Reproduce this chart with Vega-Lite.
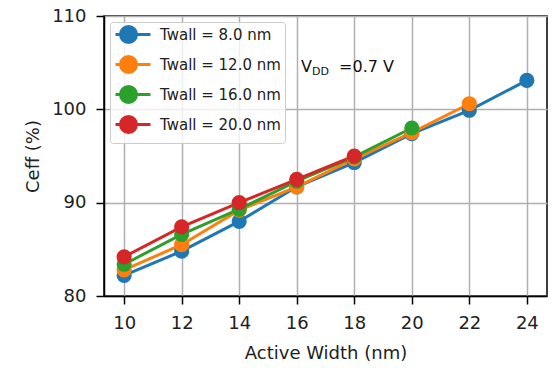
{
  "$schema": "https://vega.github.io/schema/vega-lite/v6.json",
  "width": 443,
  "height": 280,
  "autosize": {"type": "none"},
  "padding": {"left": 104, "top": 16, "right": 7, "bottom": 72},
  "background": "white",
  "config": {
    "font": "DejaVu Sans",
    "view": {"stroke": "black", "strokeWidth": 1.5},
    "axis": {
      "domainColor": "black", "domainWidth": 1.5,
      "tickColor": "black", "tickWidth": 1.5, "tickSize": 8,
      "gridColor": "#b0b0b0", "gridWidth": 1.5,
      "labelFont": "DejaVu Sans", "labelFontSize": 18, "labelColor": "#222",
      "titleFont": "DejaVu Sans", "titleFontSize": 18, "titleFontWeight": "normal", "titleColor": "#222"
    }
  },
  "data": {"values": [
    {"w": 10, "ceff": 82.2, "s": "8.0"},
    {"w": 12, "ceff": 84.8, "s": "8.0"},
    {"w": 14, "ceff": 88.0, "s": "8.0"},
    {"w": 16, "ceff": 91.7, "s": "8.0"},
    {"w": 18, "ceff": 94.3, "s": "8.0"},
    {"w": 20, "ceff": 97.4, "s": "8.0"},
    {"w": 22, "ceff": 99.9, "s": "8.0"},
    {"w": 24, "ceff": 103.1, "s": "8.0"},
    {"w": 10, "ceff": 82.8, "s": "12.0"},
    {"w": 12, "ceff": 85.5, "s": "12.0"},
    {"w": 14, "ceff": 89.2, "s": "12.0"},
    {"w": 16, "ceff": 91.7, "s": "12.0"},
    {"w": 18, "ceff": 94.7, "s": "12.0"},
    {"w": 20, "ceff": 97.5, "s": "12.0"},
    {"w": 22, "ceff": 100.6, "s": "12.0"},
    {"w": 10, "ceff": 83.4, "s": "16.0"},
    {"w": 12, "ceff": 86.6, "s": "16.0"},
    {"w": 14, "ceff": 89.3, "s": "16.0"},
    {"w": 16, "ceff": 92.3, "s": "16.0"},
    {"w": 18, "ceff": 94.9, "s": "16.0"},
    {"w": 20, "ceff": 98.0, "s": "16.0"},
    {"w": 10, "ceff": 84.2, "s": "20.0"},
    {"w": 12, "ceff": 87.4, "s": "20.0"},
    {"w": 14, "ceff": 90.0, "s": "20.0"},
    {"w": 16, "ceff": 92.5, "s": "20.0"},
    {"w": 18, "ceff": 95.0, "s": "20.0"}
  ]},
  "layer": [
    {
      "mark": {"type": "line", "strokeWidth": 3},
      "encoding": {
        "x": {"field": "w", "type": "quantitative",
              "scale": {"domain": [9.3, 24.7], "nice": false, "zero": false},
              "axis": {"values": [10, 12, 14, 16, 18, 20, 22, 24], "title": "Active Width (nm)", "labelPadding": 10, "titlePadding": 12}},
        "y": {"field": "ceff", "type": "quantitative",
              "scale": {"domain": [80, 110], "nice": false, "zero": false},
              "axis": {"values": [80, 90, 100, 110], "title": "Ceff (%)", "labelPadding": 10, "titlePadding": 9}},
        "color": {"field": "s", "type": "nominal",
                  "scale": {"domain": ["8.0", "12.0", "16.0", "20.0"], "range": ["#1f77b4", "#ff7f0e", "#2ca02c", "#d62728"]},
                  "legend": {
                    "title": null, "orient": "top-left", "offset": 6,
                    "labelExpr": "'Twall = ' + datum.label + ' nm'",
                    "labelFont": "DejaVu Sans", "labelFontSize": 15, "labelColor": "#222", "labelOffset": 29,
                    "symbolType": "M-1,0L4,0M1.997,0L1.91,0.436L1.663,0.806L1.293,1.053L0.857,1.14L0.421,1.053L0.051,0.806L-0.196,0.436L-0.283,0L-0.196,-0.436L0.051,-0.806L0.421,-1.053L0.857,-1.14L1.293,-1.053L1.663,-0.806L1.91,-0.436Z",
                    "symbolSize": 196, "symbolStrokeWidth": 3,
                    "rowPadding": 1, "padding": 4,
                    "strokeColor": "#cccccc", "fillColor": "rgba(255,255,255,0.8)", "cornerRadius": 3
                  }},
        "order": {"field": "w", "type": "quantitative"}
      }
    },
    {
      "mark": {"type": "point", "filled": true, "size": 230, "opacity": 1},
      "encoding": {
        "x": {"field": "w", "type": "quantitative"},
        "y": {"field": "ceff", "type": "quantitative"},
        "color": {"field": "s", "type": "nominal"}
      }
    },
    {
      "data": {"values": [{"t": "V"}]},
      "mark": {"type": "text", "fontSize": 16, "align": "left", "baseline": "alphabetic", "font": "DejaVu Sans", "fill": "#111"},
      "encoding": {"text": {"field": "t"}, "x": {"datum": 16.15}, "y": {"datum": 104.0}}
    },
    {
      "data": {"values": [{"t": "DD"}]},
      "mark": {"type": "text", "fontSize": 11, "align": "left", "baseline": "alphabetic", "font": "DejaVu Sans", "fill": "#111", "dx": 11, "dy": 3},
      "encoding": {"text": {"field": "t"}, "x": {"datum": 16.15}, "y": {"datum": 104.0}}
    },
    {
      "data": {"values": [{"t": "=0.7 V"}]},
      "mark": {"type": "text", "fontSize": 16, "align": "left", "baseline": "alphabetic", "font": "DejaVu Sans", "fill": "#111", "dx": 38},
      "encoding": {"text": {"field": "t"}, "x": {"datum": 16.15}, "y": {"datum": 104.0}}
    }
  ]
}
